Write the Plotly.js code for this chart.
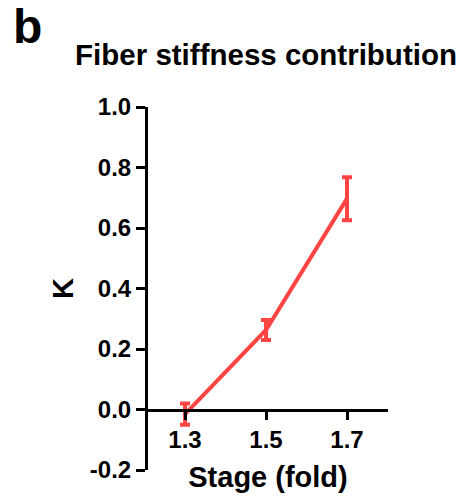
<!DOCTYPE html>
<html>
<head>
<meta charset="utf-8">
<script src="https://cdn.plot.ly/plotly-3.0.1.min.js"></script>
<style>html,body{margin:0;padding:0;background:#fff;}#chart{width:460px;height:500px;}</style>
</head>
<body>
<div id="chart"></div>
<script>
const stages = ['1.3', '1.5', '1.7'];
const kValues = [-0.015, 0.263, 0.697];
const kErrors = [0.035, 0.033, 0.071];
const yTicks = [-0.2, 0.0, 0.2, 0.4, 0.6, 0.8, 1.0];
const yTickLabels = ['-0.2', '0.0', '0.2', '0.4', '0.6', '0.8', '1.0'];

const FONT = 'Liberation Sans, Arial, Helvetica, sans-serif';
const RED = '#FF4444';

const trace = {
  x: stages,
  y: kValues,
  type: 'scatter',
  mode: 'lines',
  line: {color: RED, width: 4},
  error_y: {type: 'data', array: kErrors, visible: true, color: RED, thickness: 4, width: 5},
  hoverinfo: 'skip'
};

const layout = {
  width: 460,
  height: 500,
  margin: {l: 148, r: 72, t: 107, b: 30, pad: 0},
  paper_bgcolor: '#fff',
  plot_bgcolor: '#fff',
  showlegend: false,
  font: {family: FONT, color: '#000', weight: 'bold'},
  title: {
    text: 'Fiber stiffness contribution',
    font: {family: FONT, size: 29.5, color: '#000', weight: 'bold'},
    xref: 'container', yref: 'container',
    x: 266 / 460, y: 1 - 55 / 500,
    xanchor: 'center', yanchor: 'middle'
  },
  xaxis: {
    type: 'category',
    categoryorder: 'array',
    categoryarray: stages,
    range: [-0.457, 2.506],
    anchor: 'free',
    position: 1 / 6,
    showline: true, linecolor: '#000', linewidth: 3,
    ticks: 'outside', ticklen: 8, tickwidth: 3, tickcolor: '#000',
    showgrid: false, zeroline: false,
    tickfont: {family: FONT, size: 24, color: '#000', weight: 'bold'},
    title: {text: 'Stage (fold)', font: {family: FONT, size: 29, color: '#000', weight: 'bold'}, standoff: 14},
    automargin: false
  },
  yaxis: {
    range: [-0.2, 1.0],
    tickvals: yTicks,
    ticktext: yTickLabels,
    showline: true, linecolor: '#000', linewidth: 3,
    ticks: 'outside', ticklen: 9, tickwidth: 3, tickcolor: '#000',
    showgrid: false, zeroline: false,
    tickfont: {family: FONT, size: 24, color: '#000', weight: 'bold'},
    title: {text: 'K', font: {family: FONT, size: 29, color: '#000', weight: 'bold'}, standoff: 8},
    automargin: false
  },
  annotations: [{
    text: 'b',
    xref: 'paper', yref: 'paper',
    x: (27.5 - 148) / 240, y: (470 - 26.5) / 363,
    xanchor: 'center', yanchor: 'middle',
    showarrow: false,
    font: {family: FONT, size: 48, color: '#000', weight: 'bold'}
  }]
};

Plotly.newPlot('chart', [trace], layout, {displayModeBar: false, staticPlot: true});
</script>
</body>
</html>
